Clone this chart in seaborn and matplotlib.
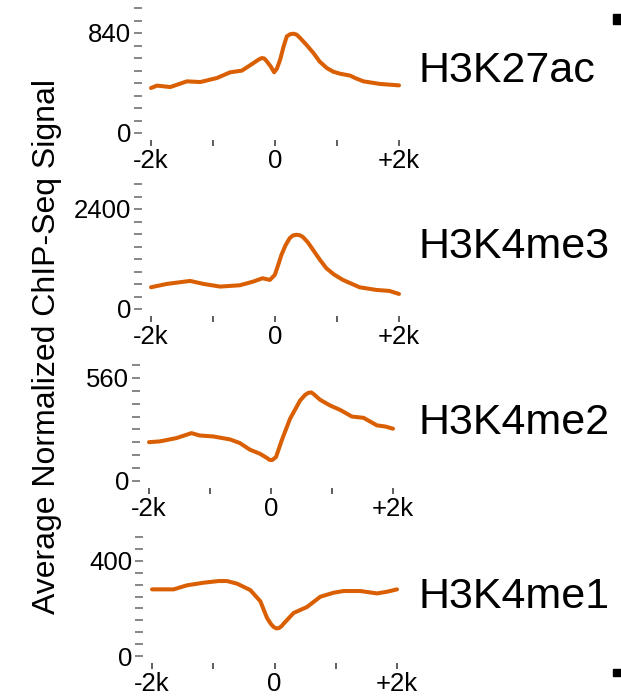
import seaborn as sns
import pandas as pd
import matplotlib.pyplot as plt
from matplotlib.patches import Rectangle

# marks and their average signal around the site (bp from center)
marks = ["H3K27ac", "H3K4me3", "H3K4me2", "H3K4me1"]

pos_k27ac = [-2000, -1903, -1689, -1420, -1205, -937, -722, -534, -346, -260, -212, -170, -132,
             -70, -14, 30, 83, 140, 191, 245, 298, 350, 405, 500, 620, 720, 835, 940, 1050,
             1211, 1300, 1426, 1694, 2000]
sig_k27ac = [378, 398, 386, 434, 428, 462, 510, 524, 588, 618, 630, 625, 602,
             560, 510, 540, 616, 730, 812, 830, 834, 826, 798, 745, 672, 600, 546, 515, 498,
             482, 460, 434, 412, 400]

pos_k4me3 = [-2000, -1743, -1368, -1154, -887, -565, -351, -201, -83, -3, 50,
             104, 170, 238, 290, 345, 400, 452, 530, 613, 720, 827, 950, 1095, 1363, 1630,
             1845, 2000]
sig_k4me3 = [522, 602, 674, 602, 538, 570, 658, 738, 698, 819, 1050,
             1300, 1530, 1702, 1765, 1782, 1770, 1726, 1600, 1421, 1190, 980, 830, 698, 522,
             458, 434, 361]

pos_k4me2 = [-2000, -1825, -1551, -1304, -1167, -948, -674, -510, -345, -181, -71, -20, 20,
             82, 175, 312, 477, 560, 614, 660, 696, 805, 970, 1134, 1326, 1518, 1737, 1874,
             2000]
sig_k4me2 = [211, 215, 233, 260, 247, 242, 226, 206, 170, 148, 126, 114, 114,
             130, 220, 338, 437, 468, 479, 481, 473, 441, 410, 386, 350, 343, 302, 296, 284]

pos_k4me1 = [-2000, -1646, -1429, -1156, -912, -776, -612, -395, -231, -122, -60, -14, 30,
             68, 110, 150, 313, 531, 748, 966, 1129, 1401, 1673, 1837, 2000]
sig_k4me1 = [280, 280, 297, 308, 315, 315, 304, 277, 230, 160, 135, 122, 116,
             117, 124, 136, 181, 206, 249, 266, 273, 273, 263, 270, 280]

positions = [pos_k27ac, pos_k4me3, pos_k4me2, pos_k4me1]
signals = [sig_k27ac, sig_k4me3, sig_k4me2, sig_k4me1]
label_vals = [840, 2400, 560, 400]
tick_steps = [105, 300, 70, 50]
y_tops = [1050, 3000, 630, 500]

xtick_vals = [-2000, -1000, 0, 1000, 2000]
xtick_labels = ["-2k", "", "0", "", "+2k"]

sns.set_style("white")
plt.rcParams["font.family"] = ["Liberation Sans", "DejaVu Sans"]
plt.rcParams["text.color"] = "black"
plt.rcParams["xtick.labelcolor"] = "black"
plt.rcParams["ytick.labelcolor"] = "black"

W, H = 621, 696
fig = plt.figure(figsize=(W / 100, H / 100), dpi=100)

# axes boxes in pixels: left, right, y of zero, y of top
boxes = [(151, 399, 133, 8), (151, 399, 309, 184), (149, 393, 481, 365), (152, 397, 656, 537)]

for i in range(4):
    l, r, y0, y1 = boxes[i]
    ax = fig.add_axes([l / W, (H - y0) / H, (r - l) / W, (y0 - y1) / H])
    df = pd.DataFrame({"pos": positions[i], "signal": signals[i]})
    sns.lineplot(data=df, x="pos", y="signal", ax=ax, color="#d95f02", linewidth=2.9,
                 clip_on=False)
    ax.set_xlim(-2000, 2000)
    ax.set_ylim(0, y_tops[i])
    yt = list(range(0, y_tops[i] + 1, tick_steps[i]))
    ax.set_yticks(yt)
    ax.set_yticklabels([str(v) if v in (0, label_vals[i]) else "" for v in yt])
    ax.set_xticks(xtick_vals)
    ax.set_xticklabels(xtick_labels)
    ax.set_xlabel("")
    ax.set_ylabel("")
    for s in ["top", "right"]:
        ax.spines[s].set_visible(False)
    ax.spines["left"].set_position(("outward", 6.5))
    ax.spines["bottom"].set_position(("outward", 5))
    ax.spines["left"].set_color("none")
    ax.spines["bottom"].set_color("none")
    ax.tick_params(axis="y", direction="out", length=5.8, width=1.1, color="#666666",
                   labelsize=18.5, pad=2, left=True)
    ax.tick_params(axis="x", direction="out", length=4.3, width=1.1, color="#333333",
                   labelsize=18.5, pad=2, bottom=True)
    ax.patch.set_alpha(0)
    fig.text(418 / W, (H - (y0 + y1) / 2) / H, marks[i], fontsize=31, ha="left", va="center")

fig.text(47 / W, (H - 346) / H, "Average Normalized ChIP-Seq Signal", rotation=90,
         fontsize=23, ha="center", va="center")

# small black markers at the right edge
fig.add_artist(Rectangle((613 / W, (H - 24) / H), 8 / W, 10 / H, transform=fig.transFigure,
                         color="black"))
fig.add_artist(Rectangle((613 / W, (H - 676) / H), 8 / W, 7 / H, transform=fig.transFigure,
                         color="black"))

fig.savefig("out.png", dpi=100)
